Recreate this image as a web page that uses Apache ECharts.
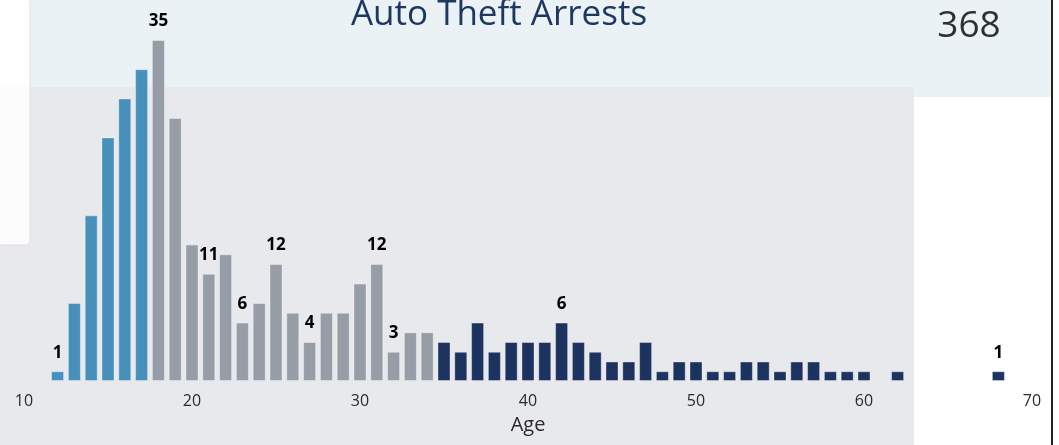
<!DOCTYPE html>
<html>
<head>
<meta charset="utf-8">
<script src="https://cdn.jsdelivr.net/npm/echarts@6/dist/echarts.min.js"></script>
<style>
  html, body { margin: 0; padding: 0; background: #ffffff; }
  #graph { width: 1059px; height: 445px; }
</style>
</head>
<body>
<div id="graph"></div>
<script>
// arrests by age
const ages = [12, 13, 14, 15, 16, 17, 18, 19, 20, 21, 22, 23, 24, 25, 26, 27, 28, 29, 30, 31,
  32, 33, 34, 35, 36, 37, 38, 39, 40, 41, 42, 43, 44, 45, 46, 47, 48, 49, 50, 51,
  52, 53, 54, 55, 56, 57, 58, 59, 60, 62, 68];
const counts = [1, 8, 17, 25, 29, 32, 35, 27, 14, 11, 13, 6, 8, 12, 7, 4, 7, 7, 10, 12,
  3, 5, 5, 4, 3, 6, 3, 4, 4, 4, 6, 4, 3, 2, 2, 4, 1, 2, 2, 1,
  1, 2, 2, 1, 2, 2, 1, 1, 1, 1, 1];
const labeledAges = [12, 18, 21, 23, 25, 27, 31, 32, 42, 68];
const totalArrests = "368";
const titleText = "Auto Theft Arrests";
const axisTicks = [10, 20, 30, 40, 50, 60, 70];

function barColor(age) {
  if (age < 18) return "#4690bb";
  if (age < 35) return "#969da6";
  return "#1c325f";
}

function buildData() {
  return ages.map((age, i) => ({
    value: [age, counts[i]],
    itemStyle: { color: barColor(age) },
    label: { show: labeledAges.indexOf(age) >= 0 }
  }));
}

const font = "'Segoe UI', 'Open Sans', 'Noto Sans', sans-serif";

const chart = echarts.init(document.getElementById('graph'));
chart.setOption({
  animation: false,
  textStyle: { fontFamily: font },
  graphic: [
    { type: 'rect', z: -10, silent: true, shape: { x: 0, y: 0, width: 1052, height: 445 }, style: { fill: '#ffffff' } },
    { type: 'rect', z: -9, silent: true, shape: { x: 30, y: 0, width: 1021, height: 97 }, style: { fill: '#eaf2f6' } },
    { type: 'rect', z: -8, silent: true, shape: { x: 0, y: 87, width: 914, height: 358 }, style: { fill: '#e8e9ed' } },
    { type: 'rect', z: -7, silent: true, shape: { x: -2, y: -2, width: 32, height: 247, r: 4 }, style: { fill: '#fdfcfc', stroke: '#e2e2e4', lineWidth: 1 } },
    { type: 'rect', z: -6, silent: true, shape: { x: 0, y: 0, width: 29, height: 87 }, style: { fill: '#ffffff' } },
    { type: 'rect', z: -5, silent: true, shape: { x: 1051, y: 0, width: 2, height: 445 }, style: { fill: '#222222' } }
  ],
  title: [
    {
      text: titleText,
      left: 494, top: -7, textAlign: 'center',
      textStyle: { fontFamily: font, fontSize: 35, fontWeight: 'normal', color: '#1e3764' }
    },
    {
      text: totalArrests,
      left: 964, top: 3, textAlign: 'center',
      textStyle: { fontFamily: font, fontSize: 37, fontWeight: 'normal', color: '#303030' }
    }
  ],
  grid: { left: 24, right: 27, top: 40, bottom: 64, containLabel: false },
  xAxis: {
    type: 'value',
    min: axisTicks[0],
    max: axisTicks[axisTicks.length - 1],
    interval: 10,
    name: 'Age',
    nameLocation: 'middle',
    nameGap: 34,
    nameTextStyle: { fontFamily: font, fontSize: 20, color: '#2a2a2a' },
    axisLine: { show: false },
    axisTick: { show: false },
    splitLine: { show: false },
    axisLabel: { fontFamily: font, fontSize: 16, color: '#2a2a2a', margin: 12 }
  },
  yAxis: {
    type: 'value',
    min: 0,
    max: 35,
    show: false
  },
  series: [
    {
      type: 'bar',
      barWidth: 13,
      data: buildData(),
      itemStyle: { borderColor: 'rgba(255,255,255,0.35)', borderWidth: 1 },
      label: {
        position: 'top',
        distance: 10,
        formatter: (p) => p.value[1],
        fontFamily: font,
        fontSize: 17,
        fontWeight: 'bold',
        color: '#000000'
      }
    }
  ]
});
</script>
</body>
</html>
